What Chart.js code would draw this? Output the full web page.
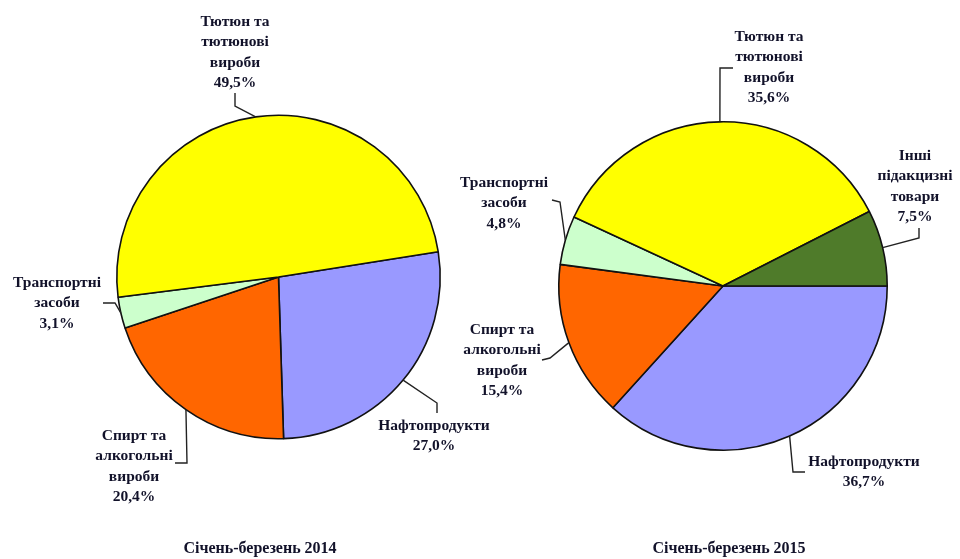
<!DOCTYPE html>
<html lang="uk">
<head>
<meta charset="utf-8">
<title>Структура акцизного податку</title>
<script src="https://cdn.jsdelivr.net/npm/chart.js@4.4.1/dist/chart.umd.min.js"></script>
<style>
  html, body { margin: 0; padding: 0; background: #fff; }
  #wrap { position: relative; width: 960px; height: 559px; }
  #wrap canvas { position: absolute; left: 0; top: 0; }
</style>
</head>
<body>
<div id="wrap">
  <canvas id="chart-2014" width="960" height="559"></canvas>
  <canvas id="chart-2015" width="960" height="559"></canvas>
</div>
<script>
// Частки груп підакцизних товарів, %. Назви з переносами рядків так, як підписано на діаграмі.
const categories2014 = [
  "Нафтопродукти",
  "Спирт та\nалкогольні\nвироби",
  "Транспортні\nзасоби",
  "Тютюн та\nтютюнові\nвироби",
];
const values2014 = [27.0, 20.4, 3.1, 49.5];

const categories2015 = [
  "Нафтопродукти",
  "Спирт та\nалкогольні\nвироби",
  "Транспортні\nзасоби",
  "Тютюн та\nтютюнові\nвироби",
  "Інші\nпідакцизні\nтовари",
];
const values2015 = [36.7, 15.4, 4.8, 35.6, 7.5];

const periods = ["Січень-березень 2014", "Січень-березень 2015"];

const SLICE_COLORS = {
  "Нафтопродукти": "#9999FF",
  "Спирт та\nалкогольні\nвироби": "#FF6600",
  "Транспортні\nзасоби": "#CCFFCC",
  "Тютюн та\nтютюнові\nвироби": "#FFFF00",
  "Інші\nпідакцизні\nтовари": "#4F7B2A",
};

const TEXT_COLOR = "#12122a";
const LABEL_FONT = 'bold 15.5px "Liberation Serif", "DejaVu Serif", serif';
const TITLE_FONT = 'bold 16px "Liberation Serif", "DejaVu Serif", serif';

// Розміщення підписів: центр тексту (x, y першого рядка) і злами виносок від краю сектора.
const labelLayout2014 = [
  { x: 434, y: 426, bend: [[437, 403], [437, 413]] },
  { x: 134, y: 436, bend: [[187, 463], [175, 463]] },
  { x: 57, y: 283, bend: [[115, 303], [103, 303]] },
  { x: 235, y: 22, bend: [[235, 106], [235, 93]] },
];
const labelLayout2015 = [
  { x: 864, y: 462, bend: [[793, 472], [805, 472]] },
  { x: 502, y: 330, bend: [[550, 358], [542, 360]] },
  { x: 504, y: 183, bend: [[560, 202], [552, 200]] },
  { x: 769, y: 37, bend: [[720, 68], [733, 68]] },
  { x: 915, y: 156, bend: [[919, 238], [919, 228]] },
];

function pct(v) {
  return v.toFixed(1).replace(".", ",") + "%";
}

// Підписи секторів з виносками та назва періоду під діаграмою.
function pieLabels(categories, values, layout, title, titleX) {
  return {
    id: "pieLabels",
    afterDraw(chart) {
      const ctx = chart.ctx;
      const arcs = chart.getDatasetMeta(0).data;
      ctx.save();
      arcs.forEach((arc, i) => {
        const p = arc.getProps(["x", "y", "startAngle", "endAngle", "outerRadius"], true);
        const mid = (p.startAngle + p.endAngle) / 2;
        const ax = p.x + Math.cos(mid) * p.outerRadius;
        const ay = p.y + Math.sin(mid) * p.outerRadius;
        const L = layout[i];

        ctx.strokeStyle = "#222";
        ctx.lineWidth = 1.4;
        ctx.beginPath();
        ctx.moveTo(ax, ay);
        L.bend.forEach(([bx, by]) => ctx.lineTo(bx, by));
        ctx.stroke();

        const lines = categories[i].split("\n").concat(pct(values[i]));
        ctx.fillStyle = TEXT_COLOR;
        ctx.font = LABEL_FONT;
        ctx.textAlign = "center";
        ctx.textBaseline = "middle";
        lines.forEach((t, k) => ctx.fillText(t, L.x, L.y + k * 20.3));
      });
      ctx.font = TITLE_FONT;
      ctx.fillStyle = TEXT_COLOR;
      ctx.textAlign = "center";
      ctx.textBaseline = "middle";
      ctx.fillText(title, titleX, 549);
      ctx.restore();
    },
  };
}

function makePie(id, categories, values, layout, padding, rotation, title, titleX) {
  return new Chart(document.getElementById(id), {
    type: "pie",
    data: {
      labels: categories,
      datasets: [
        {
          data: values,
          backgroundColor: categories.map((c) => SLICE_COLORS[c]),
          borderColor: "#111",
          borderWidth: 1.6,
        },
      ],
    },
    plugins: [pieLabels(categories, values, layout, title, titleX)],
    options: {
      responsive: false,
      animation: false,
      rotation,
      layout: { padding },
      plugins: { legend: { display: false }, tooltip: { enabled: false } },
    },
  });
}

makePie("chart-2014", categories2014, values2014, labelLayout2014,
  { left: 116, right: 519, top: 114, bottom: 119 }, 81, periods[0], 260);
makePie("chart-2015", categories2015, values2015, labelLayout2015,
  { left: 558, right: 72, top: 121, bottom: 108 }, 90, periods[1], 729);
</script>
</body>
</html>
